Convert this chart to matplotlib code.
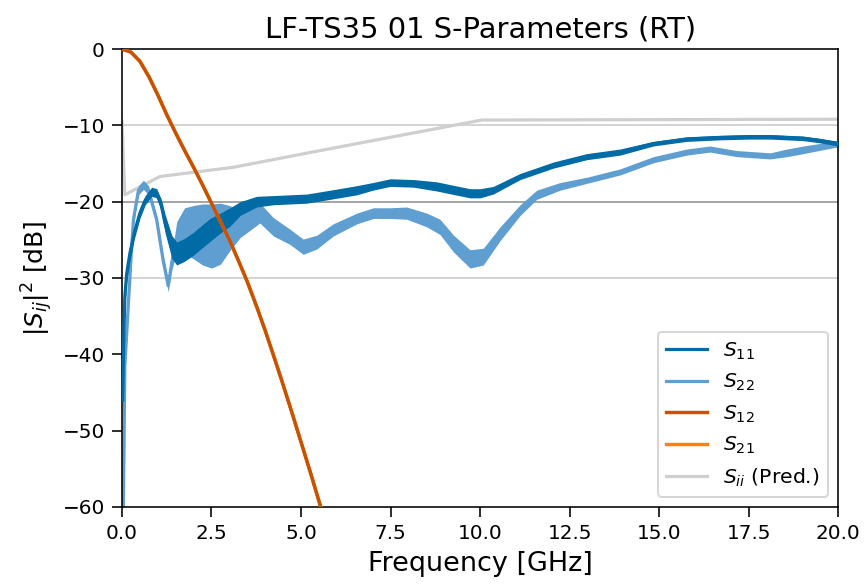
import numpy as np
import matplotlib
matplotlib.use("Agg")
import matplotlib.pyplot as plt

# values
f11 = [0.02, 0.05, 0.08, 0.13, 0.22, 0.35, 0.5, 0.65, 0.83, 0.97, 1.1, 1.2, 1.39, 1.53,
       1.75, 2.0, 2.25, 2.46, 2.75, 3.02, 3.3, 3.76, 4.23, 4.7, 5.16, 5.81, 6.56, 7.0,
       7.49, 8.14, 8.79, 9.3, 9.72, 10.0, 10.37, 11.12, 12.05, 12.98, 13.91, 14.84,
       15.77, 16.7, 17.5, 18.1, 19.02, 19.5, 20.0]
s11 = [-46, -38, -32.5, -29.5, -26.8, -24, -21.5, -19.8, -18.7, -18.9, -20.5, -22.8, -25.9,
       -26.8, -26.3, -25.5, -24.5, -23.7, -22.8, -22, -20.9, -20.0, -19.8, -19.7, -19.6,
       -19.1, -18.5, -18.0, -17.5, -17.6, -18.0, -18.5, -18.9, -18.9, -18.5, -16.7, -15.2,
       -14.1, -13.5, -12.4, -11.8, -11.6, -11.5, -11.5, -11.7, -12.0, -12.4]
# half width of the noisy band around S11
n11 = [1.5, 1.5, 1.5, 1.2, 1.0, 0.8, 0.7, 0.6, 0.6, 0.6, 0.8, 1.2, 1.5, 1.5,
       1.5, 1.5, 1.5, 1.5, 1.3, 1.2, 0.9, 0.7, 0.6, 0.6, 0.6, 0.6, 0.6, 0.5,
       0.5, 0.5, 0.6, 0.6, 0.6, 0.6, 0.5, 0.4, 0.4, 0.4, 0.4, 0.3,
       0.3, 0.3, 0.3, 0.3, 0.3, 0.3, 0.3]

f22 = [0.04, 0.08, 0.18, 0.27, 0.32, 0.46, 0.6, 0.74, 0.97, 1.15, 1.29, 1.39, 1.53, 1.75,
       2.0, 2.25, 2.5, 2.75, 3.0, 3.3, 3.85, 4.23, 4.69, 5.06, 5.44, 5.9, 6.56, 7.02, 7.49,
       7.95, 8.51, 8.88, 9.26, 9.72, 10.09, 10.56, 11.12, 11.58, 12.23, 12.98, 13.91,
       14.84, 15.77, 16.42, 17.17, 18.1, 18.57, 19.03, 20.0]
s22 = [-60, -41.6, -33.3, -26, -22.4, -18.5, -17.8, -18.5, -22.4, -27.7, -31, -28, -24.6,
       -23.8, -24, -24.3, -24.5, -24.2, -23.5, -22.9, -21.5, -23.3, -24.6, -25.9, -25.3,
       -23.7, -22.2, -21.5, -21.5, -21.5, -22.4, -23.3, -25.5, -27.5, -27.2, -24.2, -21.1,
       -19.1, -18.0, -17.2, -16.1, -14.5, -13.5, -13.1, -13.7, -14.0, -13.6, -13.2, -12.4]
n22 = [0.5, 0.8, 0.8, 0.7, 0.6, 0.6, 0.6, 0.6, 0.6, 0.8, 0.8, 1.0, 2.0, 3.0,
       3.5, 4.0, 4.2, 4.0, 3.0, 1.8, 1.3, 1.2, 1.0, 1.0, 0.9, 0.8, 0.7, 0.7, 0.7,
       0.8, 0.9, 1.0, 1.1, 1.2, 1.1, 0.9, 0.7, 0.6, 0.5, 0.4, 0.4,
       0.4, 0.4, 0.4, 0.4, 0.4, 0.5, 0.5, 0.4]

f12 = [0.0, 0.25, 0.5, 0.75, 1.0, 1.25, 1.5, 1.75, 2.0, 2.25, 2.5, 2.75, 3.0, 3.25,
       3.5, 3.75, 4.0, 4.25, 4.5, 4.75, 5.0, 5.25, 5.6]
s12 = [0.0, -0.4, -1.6, -3.6, -6.0, -8.6, -11.0, -13.3, -15.5, -17.8, -20.2, -22.6,
       -25.0, -27.7, -30.5, -33.6, -36.9, -40.4, -44.0, -47.7, -51.5, -55.3, -60.8]
s21 = s12

f_pred = [0.0, 0.08, 1.06, 3.1, 6.1, 10.05, 20.0]
s_pred = [-9.5, -19.1, -16.7, -15.5, -12.8, -9.3, -9.2]

fig = plt.figure(figsize=(865 / 144, 584 / 144), dpi=144)
ax = fig.add_axes([0.141, 0.132, 0.828, 0.784])

ax.axhline(-10, color='#d4d4d4', lw=1.0, zorder=0)
ax.axhline(-20, color='#a6a6a6', lw=1.0, zorder=0)
ax.axhline(-30, color='#d4d4d4', lw=1.0, zorder=0)

c11, c22, c12, c21, cp = '#006BA4', '#5F9ED1', '#C85200', '#FF800E', '#CFCFCF'

ax.plot(f_pred, s_pred, color=cp, lw=1.6, label=r'$S_{ii}$ (Pred.)', zorder=1)

s22a, n22a = np.array(s22), np.array(n22)
ax.fill_between(f22, s22a - n22a, s22a + n22a, color=c22, lw=0, zorder=2)
ax.plot(f22, s22, color=c22, lw=1.6, label=r'$S_{22}$', zorder=2)

s11a, n11a = np.array(s11), np.array(n11)
ax.fill_between(f11, s11a - n11a, s11a + n11a, color=c11, lw=0, zorder=3)
ax.plot(f11, s11, color=c11, lw=1.6, label=r'$S_{11}$', zorder=3)

ax.plot(f12, s21, color=c21, lw=1.7, label=r'$S_{21}$', zorder=3.5)
ax.plot(f12, s12, color=c12, lw=1.7, label=r'$S_{12}$', zorder=4)

ax.set_xlim(0, 20)
ax.set_ylim(-60, 0)
ax.set_xticks(np.arange(0, 20.1, 2.5))
ax.set_xticklabels([f'{v:.1f}' for v in np.arange(0, 20.1, 2.5)])
ax.set_yticks(range(-60, 1, 10))
ax.tick_params(length=5)

ax.set_xlabel('Frequency [GHz]', fontsize=13.5)
ax.set_ylabel(r'$|S_{ij}|^2$ [dB]', fontsize=12.5)
ax.set_title('LF-TS35 01 S-Parameters (RT)', fontsize=14.5)

h, l = ax.get_legend_handles_labels()
order = [r'$S_{11}$', r'$S_{22}$', r'$S_{12}$', r'$S_{21}$', r'$S_{ii}$ (Pred.)']
hd = dict(zip(l, h))
ax.legend([hd[k] for k in order], order, loc='lower right', fontsize=10.2)

fig.savefig('out.png', dpi=144)
